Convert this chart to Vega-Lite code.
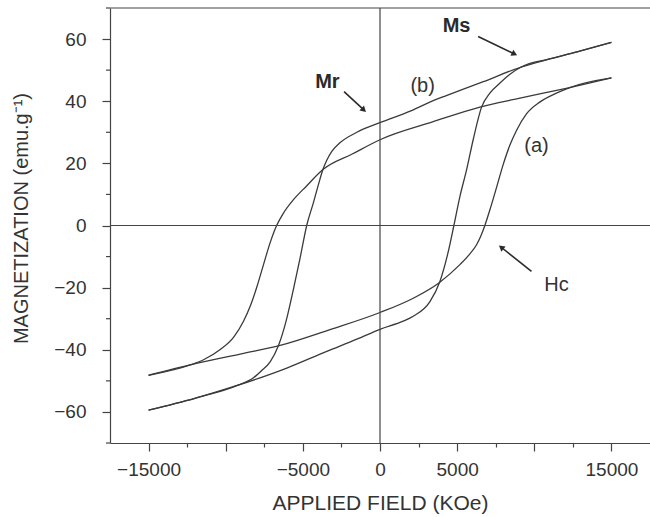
{
  "$schema": "https://vega.github.io/schema/vega-lite/v6.json",
  "width": 540,
  "height": 435,
  "autosize": {"type": "none"},
  "padding": {"left": 110, "top": 8, "right": 0, "bottom": 74},
  "background": "white",
  "config": {
    "view": {"stroke": null},
    "font": "Liberation Sans",
    "axis": {
      "domainColor": "#444", "domainWidth": 1.2, "tickColor": "#444", "tickWidth": 1.2,
      "labelColor": "#333", "titleColor": "#333", "labelFont": "Liberation Sans", "titleFont": "Liberation Sans",
      "grid": false, "labelOverlap": false, "labelFlush": false
    }
  },
  "datasets": {
    "curves": [
      {"loop": "b", "branch": "desc", "H": 15000, "M": 58.9},
      {"loop": "b", "branch": "desc", "H": 13000, "M": 56.2},
      {"loop": "b", "branch": "desc", "H": 11000, "M": 53.6},
      {"loop": "b", "branch": "desc", "H": 9150, "M": 51.0},
      {"loop": "b", "branch": "desc", "H": 6700, "M": 46.3},
      {"loop": "b", "branch": "desc", "H": 4300, "M": 41.8},
      {"loop": "b", "branch": "desc", "H": 3450, "M": 40.2},
      {"loop": "b", "branch": "desc", "H": 2000, "M": 36.9},
      {"loop": "b", "branch": "desc", "H": 0, "M": 33.1},
      {"loop": "b", "branch": "desc", "H": -1500, "M": 30.0},
      {"loop": "b", "branch": "desc", "H": -2600, "M": 26.6},
      {"loop": "b", "branch": "desc", "H": -3100, "M": 24.0},
      {"loop": "b", "branch": "desc", "H": -3450, "M": 21.0},
      {"loop": "b", "branch": "desc", "H": -3700, "M": 18.0},
      {"loop": "b", "branch": "desc", "H": -4000, "M": 13.0},
      {"loop": "b", "branch": "desc", "H": -4320, "M": 7.3},
      {"loop": "b", "branch": "desc", "H": -4750, "M": 0},
      {"loop": "b", "branch": "desc", "H": -5180, "M": -10.5},
      {"loop": "b", "branch": "desc", "H": -5610, "M": -20.5},
      {"loop": "b", "branch": "desc", "H": -6100, "M": -31.0},
      {"loop": "b", "branch": "desc", "H": -6580, "M": -38.6},
      {"loop": "b", "branch": "desc", "H": -7110, "M": -43.8},
      {"loop": "b", "branch": "desc", "H": -7700, "M": -46.8},
      {"loop": "b", "branch": "desc", "H": -8200, "M": -49.0},
      {"loop": "b", "branch": "desc", "H": -9200, "M": -51.4},
      {"loop": "b", "branch": "desc", "H": -12000, "M": -55.6},
      {"loop": "b", "branch": "desc", "H": -15000, "M": -59.4},

      {"loop": "b", "branch": "asc", "H": -15000, "M": -59.4},
      {"loop": "b", "branch": "asc", "H": -12000, "M": -55.6},
      {"loop": "b", "branch": "asc", "H": -9200, "M": -51.4},
      {"loop": "b", "branch": "asc", "H": -6000, "M": -45.8},
      {"loop": "b", "branch": "asc", "H": -3450, "M": -40.5},
      {"loop": "b", "branch": "asc", "H": -1500, "M": -36.6},
      {"loop": "b", "branch": "asc", "H": 0, "M": -33.4},
      {"loop": "b", "branch": "asc", "H": 1500, "M": -30.8},
      {"loop": "b", "branch": "asc", "H": 2155, "M": -29.2},
      {"loop": "b", "branch": "asc", "H": 3236, "M": -24.5},
      {"loop": "b", "branch": "asc", "H": 3883, "M": -18.0},
      {"loop": "b", "branch": "asc", "H": 4420, "M": -8.5},
      {"loop": "b", "branch": "asc", "H": 4789, "M": 0},
      {"loop": "b", "branch": "asc", "H": 5178, "M": 9.3},
      {"loop": "b", "branch": "asc", "H": 5611, "M": 17.9},
      {"loop": "b", "branch": "asc", "H": 6039, "M": 27.6},
      {"loop": "b", "branch": "asc", "H": 6582, "M": 38.1},
      {"loop": "b", "branch": "asc", "H": 7119, "M": 42.6},
      {"loop": "b", "branch": "asc", "H": 7766, "M": 45.8},
      {"loop": "b", "branch": "asc", "H": 8400, "M": 48.6},
      {"loop": "b", "branch": "asc", "H": 9150, "M": 51.0},
      {"loop": "b", "branch": "asc", "H": 11000, "M": 53.6},
      {"loop": "b", "branch": "asc", "H": 13000, "M": 56.2},
      {"loop": "b", "branch": "asc", "H": 15000, "M": 58.9},

      {"loop": "a", "branch": "desc", "H": 15000, "M": 47.5},
      {"loop": "a", "branch": "desc", "H": 12300, "M": 44.4},
      {"loop": "a", "branch": "desc", "H": 9000, "M": 40.9},
      {"loop": "a", "branch": "desc", "H": 6472, "M": 38.1},
      {"loop": "a", "branch": "desc", "H": 3450, "M": 33.4},
      {"loop": "a", "branch": "desc", "H": 0, "M": 27.6},
      {"loop": "a", "branch": "desc", "H": -1800, "M": 23.0},
      {"loop": "a", "branch": "desc", "H": -3700, "M": 18.0},
      {"loop": "a", "branch": "desc", "H": -4744, "M": 12.8},
      {"loop": "a", "branch": "desc", "H": -5611, "M": 8.3},
      {"loop": "a", "branch": "desc", "H": -6258, "M": 4.0},
      {"loop": "a", "branch": "desc", "H": -6700, "M": 0},
      {"loop": "a", "branch": "desc", "H": -7119, "M": -5.5},
      {"loop": "a", "branch": "desc", "H": -7551, "M": -12.6},
      {"loop": "a", "branch": "desc", "H": -7983, "M": -19.8},
      {"loop": "a", "branch": "desc", "H": -8414, "M": -26.0},
      {"loop": "a", "branch": "desc", "H": -8847, "M": -30.8},
      {"loop": "a", "branch": "desc", "H": -9494, "M": -36.0},
      {"loop": "a", "branch": "desc", "H": -10355, "M": -39.9},
      {"loop": "a", "branch": "desc", "H": -11436, "M": -43.2},
      {"loop": "a", "branch": "desc", "H": -12250, "M": -44.8},
      {"loop": "a", "branch": "desc", "H": -15000, "M": -48.2},

      {"loop": "a", "branch": "asc", "H": -15000, "M": -48.2},
      {"loop": "a", "branch": "asc", "H": -12250, "M": -44.8},
      {"loop": "a", "branch": "asc", "H": -9000, "M": -41.3},
      {"loop": "a", "branch": "asc", "H": -6472, "M": -38.6},
      {"loop": "a", "branch": "asc", "H": -3236, "M": -33.5},
      {"loop": "a", "branch": "asc", "H": 0, "M": -28.0},
      {"loop": "a", "branch": "asc", "H": 2155, "M": -23.4},
      {"loop": "a", "branch": "asc", "H": 3838, "M": -18.4},
      {"loop": "a", "branch": "asc", "H": 5178, "M": -12.6},
      {"loop": "a", "branch": "asc", "H": 5800, "M": -9.3},
      {"loop": "a", "branch": "asc", "H": 6258, "M": -6.2},
      {"loop": "a", "branch": "asc", "H": 6550, "M": -3.2},
      {"loop": "a", "branch": "asc", "H": 6796, "M": 0},
      {"loop": "a", "branch": "asc", "H": 7119, "M": 5.0},
      {"loop": "a", "branch": "asc", "H": 7551, "M": 12.2},
      {"loop": "a", "branch": "asc", "H": 7983, "M": 19.6},
      {"loop": "a", "branch": "asc", "H": 8414, "M": 25.8},
      {"loop": "a", "branch": "asc", "H": 8847, "M": 30.6},
      {"loop": "a", "branch": "asc", "H": 9494, "M": 35.9},
      {"loop": "a", "branch": "asc", "H": 10355, "M": 39.7},
      {"loop": "a", "branch": "asc", "H": 11436, "M": 42.6},
      {"loop": "a", "branch": "asc", "H": 12300, "M": 44.4},
      {"loop": "a", "branch": "asc", "H": 15000, "M": 47.5}
    ]
  },
  "layer": [
    {
      "data": {"name": "curves"},
      "mark": {"type": "line", "interpolate": "monotone", "color": "#3a3a3a", "strokeWidth": 1.3},
      "encoding": {
        "x": {
          "field": "H", "type": "quantitative",
          "scale": {"domain": [-17500, 17500], "nice": false, "zero": false},
          "axis": {
            "title": "APPLIED FIELD (KOe)", "titleFontSize": 21, "titleFontWeight": "normal",
            "titleY": 60, "titleBaseline": "middle",
            "values": [-15000, -12500, -10000, -7500, -5000, -2500, 0, 2500, 5000, 7500, 10000, 12500, 15000],
            "format": "d", "labelFontSize": 19, "labelPadding": 9,
            "labelExpr": "indexof([-15000, -5000, 0, 5000, 15000], datum.value) >= 0 ? datum.label : ''",
            "tickSize": {"condition": {"test": "datum.value % 5000 === 0", "value": 8}, "value": 4}
          }
        },
        "y": {
          "field": "M", "type": "quantitative",
          "scale": {"domain": [-70, 70], "nice": false, "zero": false},
          "axis": {
            "title": "MAGNETIZATION (emu.g⁻¹)", "titleFontSize": 20, "titleFontWeight": "normal",
            "titleX": -89, "titleY": 210, "titleBaseline": "middle", "titleAlign": "center",
            "values": [-60, -40, -20, 0, 20, 40, 60],
            "format": "d", "labelFontSize": 19, "labelPadding": 16,
            "labelAlign": "right", "labelBaseline": "middle",
            "tickSize": 8
          }
        },
        "detail": [{"field": "loop"}, {"field": "branch"}]
      }
    },
    {
      "data": {"values": [{"M": -70}, {"M": -50}, {"M": -30}, {"M": -10}, {"M": 10}, {"M": 30}, {"M": 50}, {"M": 70}]},
      "mark": {"type": "tick", "orient": "horizontal", "size": 4, "thickness": 1.2, "xOffset": -2, "color": "#444", "opacity": 1},
      "encoding": {
        "x": {"datum": -17500, "type": "quantitative"},
        "y": {"field": "M", "type": "quantitative"}
      }
    },
    {
      "data": {"values": [{"M": 0}, {"M": 70}]},
      "mark": {"type": "rule", "color": "#444", "strokeWidth": 1.2},
      "encoding": {
        "y": {"field": "M", "type": "quantitative"}
      }
    },
    {
      "data": {"values": [{"H": 0}]},
      "mark": {"type": "rule", "color": "#444", "strokeWidth": 1.2},
      "encoding": {
        "x": {"field": "H", "type": "quantitative"}
      }
    },
    {
      "data": {"values": [{"label": "Ms", "H": 4964, "M": 64.3}, {"label": "Mr", "H": -3411, "M": 46.3}]},
      "mark": {"type": "text", "fontSize": 20, "fontWeight": "bold", "color": "#2a2a2a", "font": "Liberation Sans"},
      "encoding": {
        "x": {"field": "H", "type": "quantitative"},
        "y": {"field": "M", "type": "quantitative"},
        "text": {"field": "label"}
      }
    },
    {
      "data": {"values": [{"label": "(b)", "H": 2763, "M": 44.9}, {"label": "(a)", "H": 10142, "M": 25.6}, {"label": "Hc", "H": 11436, "M": -19.1}]},
      "mark": {"type": "text", "fontSize": 20, "color": "#333", "font": "Liberation Sans"},
      "encoding": {
        "x": {"field": "H", "type": "quantitative"},
        "y": {"field": "M", "type": "quantitative"},
        "text": {"field": "label"}
      }
    },
    {
      "data": {"values": [
        {"name": "Ms", "H": 6362, "M": 60.8, "H2": 8718, "M2": 55.2},
        {"name": "Hc", "H": 9818, "M": -14.8, "H2": 7857, "M2": -7.0},
        {"name": "Mr", "H": -2330, "M": 43.1, "H2": -1048, "M2": 37.2}
      ]},
      "mark": {"type": "rule", "color": "#2a2a2a", "strokeWidth": 1.6},
      "encoding": {
        "x": {"field": "H", "type": "quantitative"},
        "y": {"field": "M", "type": "quantitative"},
        "x2": {"field": "H2"},
        "y2": {"field": "M2"}
      }
    },
    {
      "data": {"values": [{"H": 8718, "M": 55.2}]},
      "mark": {"type": "point", "shape": "triangle-up", "filled": true, "size": 45, "angle": 116, "color": "#2a2a2a", "opacity": 1},
      "encoding": {
        "x": {"field": "H", "type": "quantitative"},
        "y": {"field": "M", "type": "quantitative"}
      }
    },
    {
      "data": {"values": [{"H": 7857, "M": -7.0}]},
      "mark": {"type": "point", "shape": "triangle-up", "filled": true, "size": 45, "angle": 309, "color": "#2a2a2a", "opacity": 1},
      "encoding": {
        "x": {"field": "H", "type": "quantitative"},
        "y": {"field": "M", "type": "quantitative"}
      }
    },
    {
      "data": {"values": [{"H": -1048, "M": 37.2}]},
      "mark": {"type": "point", "shape": "triangle-up", "filled": true, "size": 45, "angle": 133, "color": "#2a2a2a", "opacity": 1},
      "encoding": {
        "x": {"field": "H", "type": "quantitative"},
        "y": {"field": "M", "type": "quantitative"}
      }
    }
  ]
}
